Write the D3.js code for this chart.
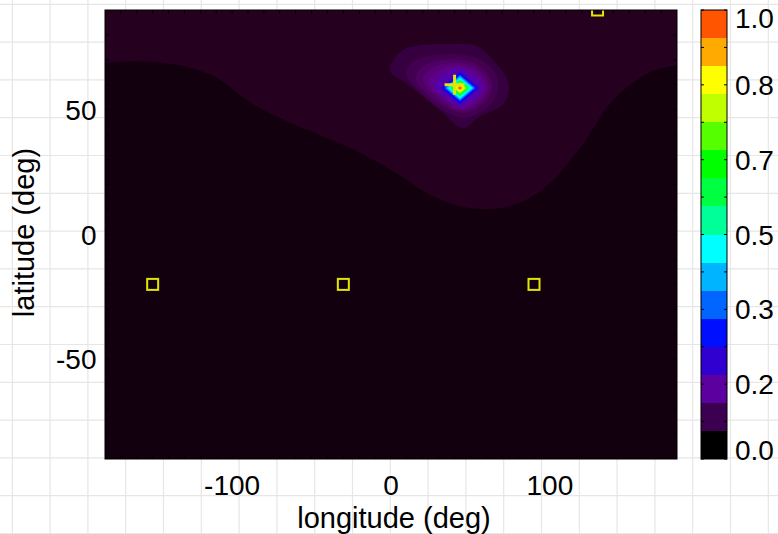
<!DOCTYPE html>
<html>
<head>
<meta charset="utf-8">
<script src="https://cdn.jsdelivr.net/npm/d3@7"></script>
<style>
  body { margin: 0; background: #ffffff; }
  svg { display: block; }
  text { font-family: "Liberation Sans", Arial, Helvetica, sans-serif; fill: #000; }
</style>
</head>
<body>
<svg id="chart" width="778" height="534"></svg>
<script>
// ---- data -------------------------------------------------------------

// receiving stations (open squares) and the true source (plus)
const stationLon = [-150, -30, 90, 130];
const stationLat = [-20, -20, -20, 90];
const sourceLon = 40;
const sourceLat = 60;

// lowest isoline: separates the darkest band from the next one
const lowBoundaryLevel = 0.02;
const lowBoundary = [
  [-180, 68.9], [-157, 69.3], [-134, 68.0], [-111, 63.3], [-88, 52.7],
  [-65, 45.2], [-42, 39.2], [-19, 32.7], [3.5, 24.6], [27, 15.1],
  [49, 10.6], [73, 11.1], [95, 17.8], [118, 33.9], [141, 54.7],
  [164, 65.3], [180, 67.9]
];

// halo isolines around the maximum (outer to inner)
const haloLevels = [0.045, 0.06, 0.08, 0.10, 0.13, 0.17];
const haloRings = [
  [[-0.9, 65.9], [7.4, 74.0], [20, 76.0], [35, 76.3], [53.5, 75.6], [65, 69.3],
   [73.4, 61.9], [74, 57.2], [70.2, 51.9], [55.6, 47.2], [45.1, 42.6],
   [33, 48.7], [22, 54.3], [10, 60.4]],
  [[9.5, 64.8], [15.5, 70.0], [35, 72.2], [54.5, 70.6], [65.5, 64.8],
   [67.5, 59.3], [63.3, 52.6], [48, 47.0], [34.5, 49.2], [19.5, 56.4]],
  [[15.5, 62.8], [21.5, 68.0], [37.1, 70.2], [54.5, 68.0], [63.5, 60.6],
   [60.2, 54.0], [46.8, 48.8], [30.2, 52.6]],
  [[20, 62.0], [26, 66.8], [38.1, 68.8], [53.5, 66.8], [61.5, 60.0],
   [57.8, 54.0], [45.5, 49.6], [33, 53.0]],
  [[23.5, 60.8], [29.5, 65.6], [39, 67.6], [52.3, 65.6], [59.5, 59.3],
   [55.2, 54.0], [44.5, 50.4], [34.5, 54.0]],
  [[27.5, 59.5], [34, 64.3], [42, 66.5], [50.5, 64.6], [57.5, 58.8],
   [52.5, 54.0], [44, 51.2], [36, 54.0]]
];

// core of the maximum: nested diamonds around the peak node
const peakLon = 43.4;
const peakLat = 58.7;
const coreLevels  = [0.21, 0.26, 0.32, 0.38, 0.44, 0.50, 0.56, 0.62, 0.68, 0.74, 0.80, 0.86, 0.91, 0.96];
const coreHalfLon = [12.4, 10.8, 9.9, 9.1, 8.3, 7.5, 6.7, 5.9, 5.1, 4.3, 3.5, 2.7, 1.9, 1.1];
const coreHalfLat = [6.8, 5.8, 5.3, 4.9, 4.5, 4.05, 3.6, 3.2, 2.75, 2.3, 1.9, 1.45, 1.0, 0.6];

// colours used for the filled levels of the map
const mapStopValues = [0, 0.01, 0.03, 0.045, 0.06, 0.08, 0.10, 0.13, 0.17, 0.21, 0.26, 0.32,
  0.38, 0.44, 0.50, 0.56, 0.62, 0.68, 0.74, 0.80, 0.86, 0.91, 0.96, 1.0];
const mapStopColors = ['#000000', '#13000f', '#25001f', '#360040', '#430051', '#4e0063',
  '#580076', '#5e008c', '#5400ac', '#3200d0', '#0000ff', '#0050ff', '#0090ff', '#00c8ff',
  '#00ffff', '#00ffaa', '#00ff50', '#20ff00', '#80ff00', '#d0ff00', '#ffff00', '#ffaa00',
  '#ff5500', '#ff1500'];
const baseLevel = 0.01;

// colour bar: 16 bands from bottom (0) to top (1)
const colorbarColors = ['#000000', '#3c0050', '#5c00a0', '#3000d0', '#0010ff', '#0066ff',
  '#00b4ff', '#00ffff', '#00ff99', '#00ff40', '#00ff00', '#55ff00', '#c0ff00', '#ffff00',
  '#ffaa00', '#ff5500'];
const colorbarTickValues = [0, 1 / 6, 2 / 6, 3 / 6, 4 / 6, 5 / 6, 1];
const colorbarTickLabels = ['0.0', '0.2', '0.3', '0.5', '0.7', '0.8', '1.0'];

// axes
const lonTicks = [-100, 0, 100];
const latTicks = [-50, 0, 50];

// ---- layout -----------------------------------------------------------
const W = 778, H = 534;
const plot = { left: 105, right: 677, top: 10, bottom: 459 };
const cbar = { left: 701, right: 727 };

const svg = d3.select('#chart');

const x = d3.scaleLinear().domain([-180, 180]).range([plot.left, plot.right]);
const y = d3.scaleLinear().domain([-90, 90]).range([plot.bottom, plot.top]);
const cy = d3.scaleLinear().domain([0, 1]).range([plot.bottom, plot.top]);
const mapColor = d3.scaleLinear().domain(mapStopValues).range(mapStopColors);

// page background grid
const gridStep = 37.8;
const bg = svg.append('g');
for (let gx = 12.3; gx < W; gx += gridStep) {
  bg.append('line').attr('x1', gx).attr('x2', gx).attr('y1', 0).attr('y2', H)
    .attr('stroke', '#e6e6e6').attr('stroke-width', 1.2);
}
for (let gy = 4.3; gy < H; gy += gridStep) {
  bg.append('line').attr('x1', 0).attr('x2', W).attr('y1', gy).attr('y2', gy)
    .attr('stroke', '#e6e6e6').attr('stroke-width', 1.2);
}

// ---- filled contour map ----------------------------------------------
svg.append('clipPath').attr('id', 'plotClip')
  .append('rect')
  .attr('x', plot.left).attr('y', plot.top)
  .attr('width', plot.right - plot.left).attr('height', plot.bottom - plot.top);

const map = svg.append('g').attr('clip-path', 'url(#plotClip)');

map.append('rect')
  .attr('x', x(-180)).attr('y', y(90))
  .attr('width', x(180) - x(-180)).attr('height', y(-90) - y(90))
  .attr('fill', mapColor(baseLevel));

const openLine = d3.line().x(d => x(d[0])).y(d => y(d[1])).curve(d3.curveCatmullRom.alpha(0.5));
map.append('path')
  .attr('d', openLine(lowBoundary) + `L${x(180)},${y(90)}L${x(-180)},${y(90)}Z`)
  .attr('fill', mapColor(0.03));

const ringLine = d3.line().x(d => x(d[0])).y(d => y(d[1])).curve(d3.curveCatmullRomClosed.alpha(0.5));
map.selectAll('path.halo')
  .data(haloRings)
  .join('path')
  .attr('class', 'halo')
  .attr('d', d => ringLine(d))
  .attr('fill', (d, i) => mapColor(haloLevels[i]));

const diamond = d3.line().x(d => x(d[0])).y(d => y(d[1])).curve(d3.curveLinearClosed);
map.selectAll('path.core')
  .data(coreLevels)
  .join('path')
  .attr('class', 'core')
  .attr('d', (d, i) => diamond([
    [peakLon - coreHalfLon[i], peakLat],
    [peakLon, peakLat + coreHalfLat[i]],
    [peakLon + coreHalfLon[i], peakLat],
    [peakLon, peakLat - coreHalfLat[i]]
  ]))
  .attr('fill', d => mapColor(d));

// stations
const sq = 11;
map.selectAll('rect.station')
  .data(stationLon.map((lon, i) => [lon, stationLat[i]]))
  .join('rect')
  .attr('class', 'station')
  .attr('x', d => x(d[0]) - sq / 2).attr('y', d => y(d[1]) - sq / 2)
  .attr('width', sq).attr('height', sq)
  .attr('fill', 'none').attr('stroke', '#e2e600').attr('stroke-width', 2);

// source
const ps = 10;
map.append('path')
  .attr('d', `M${x(sourceLon) - ps},${y(sourceLat)}H${x(sourceLon) + ps}` +
             `M${x(sourceLon)},${y(sourceLat) - ps}V${y(sourceLat) + ps}`)
  .attr('stroke', '#e2e600').attr('stroke-width', 3).attr('fill', 'none');

// ---- axes ------------------------------------------------------------
const minorLon = d3.range(-170, 180, 10);
const minorLat = d3.range(-80, 90, 10);
const tickLen = 4;
const ticks = svg.append('g').attr('stroke', '#000').attr('stroke-width', 1);
minorLon.forEach(v => {
  ticks.append('line').attr('x1', x(v)).attr('x2', x(v)).attr('y1', plot.top).attr('y2', plot.top + tickLen);
  ticks.append('line').attr('x1', x(v)).attr('x2', x(v)).attr('y1', plot.bottom).attr('y2', plot.bottom - tickLen);
});
minorLat.forEach(v => {
  ticks.append('line').attr('y1', y(v)).attr('y2', y(v)).attr('x1', plot.left).attr('x2', plot.left + tickLen);
  ticks.append('line').attr('y1', y(v)).attr('y2', y(v)).attr('x1', plot.right).attr('x2', plot.right - tickLen);
});

svg.append('rect')
  .attr('x', plot.left).attr('y', plot.top)
  .attr('width', plot.right - plot.left).attr('height', plot.bottom - plot.top)
  .attr('fill', 'none').attr('stroke', '#000').attr('stroke-width', 1);

const fs = 28;
svg.selectAll('text.lonTick')
  .data(lonTicks).join('text')
  .attr('class', 'lonTick')
  .attr('x', d => x(d)).attr('y', 495)
  .attr('text-anchor', 'middle').attr('font-size', fs)
  .text(d => d);

svg.selectAll('text.latTick')
  .data(latTicks).join('text')
  .attr('class', 'latTick')
  .attr('x', 96.5).attr('y', d => y(d)).attr('dy', '0.36em')
  .attr('text-anchor', 'end').attr('font-size', fs)
  .text(d => d);

svg.append('text')
  .attr('x', 394).attr('y', 528)
  .attr('text-anchor', 'middle').attr('font-size', 29)
  .text('longitude (deg)');

svg.append('text')
  .attr('transform', 'translate(33.5,232.5) rotate(-90)')
  .attr('text-anchor', 'middle').attr('font-size', 29)
  .text('latitude (deg)');

// ---- colour bar -------------------------------------------------------
const nb = colorbarColors.length;
const cb = svg.append('g');
cb.selectAll('rect.band')
  .data(colorbarColors).join('rect')
  .attr('class', 'band')
  .attr('x', cbar.left).attr('width', cbar.right - cbar.left)
  .attr('y', (d, i) => cy((i + 1) / nb))
  .attr('height', (d, i) => cy(i / nb) - cy((i + 1) / nb))
  .attr('fill', d => d).attr('shape-rendering', 'crispEdges');

d3.range(0, 13).forEach(k => {
  const ty = cy(k / 12);
  cb.append('line').attr('x1', cbar.left).attr('x2', cbar.left + 3).attr('y1', ty).attr('y2', ty)
    .attr('stroke', '#000').attr('stroke-width', 1);
  cb.append('line').attr('x1', cbar.right).attr('x2', cbar.right - 3).attr('y1', ty).attr('y2', ty)
    .attr('stroke', '#000').attr('stroke-width', 1);
});

cb.append('rect')
  .attr('x', cbar.left).attr('y', plot.top)
  .attr('width', cbar.right - cbar.left).attr('height', plot.bottom - plot.top)
  .attr('fill', 'none').attr('stroke', '#000').attr('stroke-width', 1);

cb.selectAll('text.cbTick')
  .data(colorbarTickValues).join('text')
  .attr('class', 'cbTick')
  .attr('x', 735)
  .attr('y', d => Math.min(Math.max(cy(d), plot.top + 8), plot.bottom - 9))
  .attr('dy', '0.36em').attr('font-size', fs)
  .text((d, i) => colorbarTickLabels[i]);
</script>
</body>
</html>
